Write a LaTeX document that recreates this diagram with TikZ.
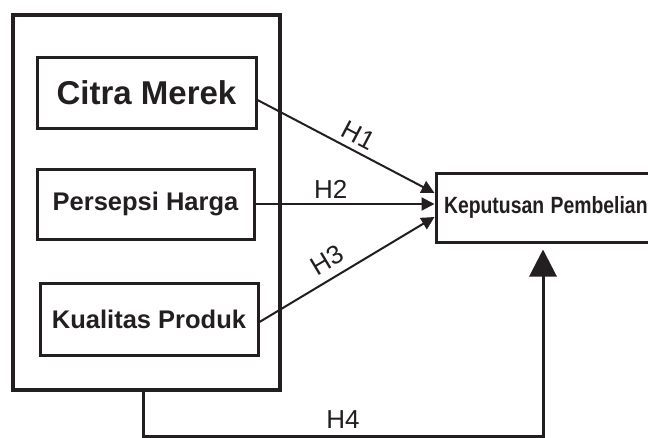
\documentclass[tikz,border=0pt]{standalone}
\usepackage{fontspec}
\setmainfont{Liberation Sans}
\usetikzlibrary{arrows.meta,calc}
\definecolor{ink}{RGB}{35,31,32}
\begin{document}
\begin{tikzpicture}[x=1pt,y=-1pt,
  box/.style={draw=ink,line width=3pt,rectangle,inner sep=0pt,text=ink,font=\bfseries},
  link/.style={draw=ink,line width=2pt,-{Triangle[length=13pt,width=13pt]}},
  hlab/.style={text=ink,font=\fontsize{26}{26}\selectfont,inner sep=0pt}]
\useasboundingbox (0,0) rectangle (648,437);
\fill[white] (0,0) rectangle (648,437);
\node[box,line width=4.5pt,minimum width=267pt,minimum height=375pt] (outer) at (146.5,202.5) {};
\node[box,minimum width=219pt,minimum height=71pt,font=\bfseries\fontsize{33}{33}\selectfont] (cm) at (146.5,92.5) {Citra Merek};
\node[box,minimum width=217pt,minimum height=70pt,font=\bfseries\fontsize{25.5}{25.5}\selectfont] (ph) at (145.5,204) {Persepsi Harga};
\node[box,minimum width=218pt,minimum height=72pt,font=\bfseries\fontsize{25.5}{25.5}\selectfont] (kp) at (149,319) {Kualitas Produk};
\node[box,minimum width=214pt,minimum height=69pt,text width=198pt,align=left,font=\bfseries\fontsize{23.5}{23.5}\selectfont] (kb) at (543,207.5) {\scalebox{0.825}[1]{Keputusan Pembelian}};
\draw[link] ([yshift=-7.5pt]cm.east) -- node[hlab,sloped,above=6pt,pos=0.53] {H1} ([yshift=14.5pt]kb.west);
\draw[link] (ph.east) -- node[hlab,above=5pt,pos=0.42] {H2} (ph.east -| kb.west);
\draw[link] ([yshift=-3pt]kp.east) -- node[hlab,sloped,above=8pt,pos=0.44] {H3} ([yshift=-9.5pt]kb.west);
\coordinate (h4a) at (143,436);
\draw[draw=ink,line width=3pt,-{Triangle[length=27pt,width=27pt]},shorten >=6pt]
  (outer.south -| h4a) -- (h4a) -- node[hlab,above=6pt,pos=0.5] {H4} (h4a -| kb.south) -- (kb.south);
\end{tikzpicture}
\end{document}
